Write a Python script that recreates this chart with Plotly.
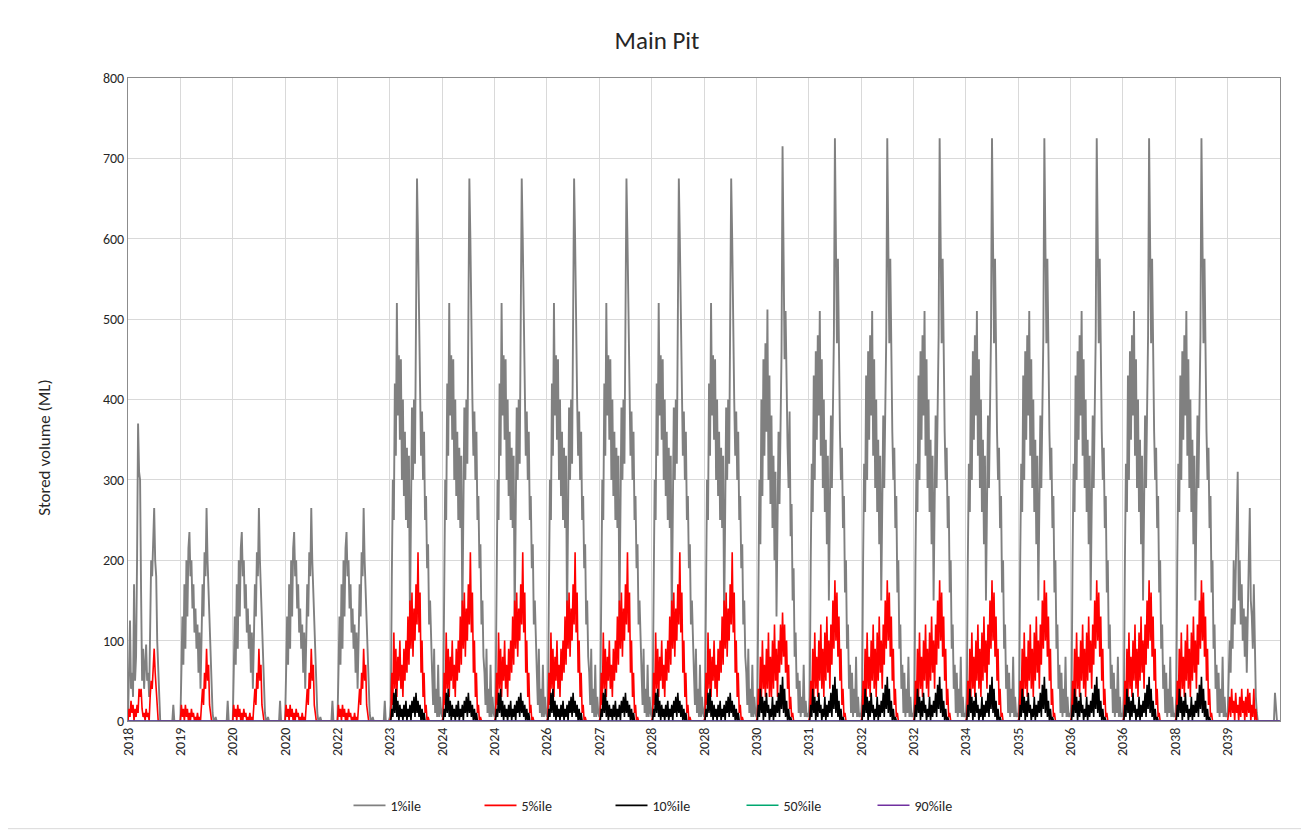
import plotly.graph_objects as go

# ---------------- data ----------------
tick_labels = ["2018", "2019", "2020", "2020", "2022", "2023", "2024", "2024", "2026", "2027", "2028",
               "2028", "2030", "2031", "2032", "2032", "2034", "2035", "2036", "2036", "2038", "2039"]

# per-year profiles (values in ML, ~1 sample per pixel column)
gray_2018 = [0, 80, 125, 40, 60, 30, 170, 50, 80, 200,
             370, 310, 300, 160, 50, 90, 40, 70, 95, 50,
             60, 30, 150, 200, 180, 230, 265, 200, 180, 100,
             60, 20, 0, 0, 0, 0, 0, 0, 0, 0,
             0, 0, 0, 0, 0, 20, 0, 0, 0, 0,
             0, 0]
gray_early = [0, 60, 130, 70, 170, 90, 200, 130, 215, 235,
              180, 200, 140, 170, 110, 140, 90, 120, 60, 110,
              40, 100, 170, 130, 210, 180, 265, 200, 160, 120,
              80, 40, 10, 0, 0, 5, 0, 0, 0, 0,
              0, 0, 0, 0, 0, 0, 0, 25, 0, 0,
              0, 0]
gray_main = [5, 20, 180, 300, 250, 420, 330, 520, 380, 455,
             350, 450, 300, 400, 280, 360, 250, 340, 240, 330,
             120, 310, 390, 300, 400, 320, 500, 675, 600, 480,
             400, 330, 385, 300, 360, 250, 280, 190, 220, 120,
             150, 80, 60, 20, 90, 10, 40, 5, 70, 5,
             30, 10]
gray_2030 = [5, 20, 150, 300, 220, 400, 280, 450, 330, 470,
             360, 512, 300, 430, 270, 380, 240, 330, 200, 310,
             130, 280, 360, 270, 400, 460, 715, 600, 450, 510,
             400, 340, 290, 385, 230, 270, 150, 190, 80, 110,
             40, 60, 10, 50, 5, 30, 10, 70, 5, 25,
             5, 10]
gray_late = [5, 30, 200, 320, 260, 430, 300, 460, 350, 480,
             380, 510, 330, 450, 290, 400, 260, 350, 220, 330,
             150, 300, 380, 290, 420, 480, 725, 620, 470, 575,
             420, 360, 300, 340, 240, 280, 160, 200, 90, 120,
             40, 70, 10, 60, 5, 40, 10, 80, 5, 30,
             5, 10]
gray_2039 = [5, 40, 100, 60, 140, 90, 200, 120, 180, 230,
             310, 150, 200, 120, 170, 100, 140, 80, 130, 60,
             170, 200, 265, 150, 130, 90, 170, 60, 30, 10,
             0, 0, 0, 0, 0, 0, 0, 0, 0, 0,
             0, 0, 0, 0, 0, 0, 0, 35, 10, 0,
             0, 0]

red_2018 = [0, 15, 5, 25, 10, 20, 0, 15, 5, 20,
            10, 40, 30, 40, 15, 5, 10, 0, 15, 5,
            10, 0, 30, 50, 40, 70, 90, 60, 40, 10,
            0, 0, 0, 0, 0, 0, 0, 0, 0, 0,
            0, 0, 0, 0, 0, 0, 0, 0, 0, 0,
            0, 0]
red_early = [0, 20, 5, 15, 0, 20, 5, 15, 0, 10,
             0, 15, 5, 10, 0, 5, 0, 10, 0, 5,
             0, 20, 40, 20, 60, 40, 90, 50, 70, 20,
             10, 0, 0, 0, 0, 0, 0, 0, 0, 0,
             0, 0, 0, 0, 0, 0, 0, 0, 0, 0,
             0, 0]
red_main = [0, 5, 60, 20, 110, 40, 90, 30, 80, 50,
            100, 40, 70, 30, 90, 50, 100, 60, 130, 70,
            150, 90, 160, 80, 140, 100, 170, 120, 210, 110,
            160, 60, 100, 30, 60, 10, 20, 0, 5, 0,
            0, 0, 0, 0, 0, 0, 0, 0, 0, 0,
            0, 0]
red_2030 = [0, 5, 40, 15, 80, 30, 100, 40, 70, 30,
            90, 40, 110, 30, 80, 30, 100, 40, 120, 50,
            90, 30, 100, 60, 120, 70, 135, 80, 120, 60,
            100, 40, 70, 15, 30, 5, 10, 0, 0, 0,
            0, 0, 0, 0, 0, 0, 0, 0, 0, 0,
            0, 0]
red_late = [0, 5, 50, 20, 90, 30, 110, 40, 80, 30,
            100, 50, 120, 40, 90, 30, 110, 50, 130, 60,
            100, 40, 120, 70, 150, 90, 175, 100, 160, 80,
            130, 50, 90, 20, 40, 5, 10, 0, 0, 0,
            0, 0, 0, 0, 0, 0, 0, 0, 0, 0,
            0, 0]
red_2039 = [0, 10, 30, 5, 40, 10, 25, 0, 35, 10,
            20, 0, 30, 5, 40, 10, 25, 0, 30, 5,
            40, 10, 35, 0, 20, 5, 40, 0, 15, 0,
            0, 0, 0, 0, 0, 0, 0, 0, 0, 0,
            0, 0, 0, 0, 0, 0, 0, 0, 0, 0,
            0, 0]

black_main = [0, 0, 15, 5, 35, 10, 40, 5, 25, 0,
              20, 5, 15, 0, 20, 5, 25, 0, 15, 5,
              20, 0, 25, 10, 30, 5, 35, 10, 25, 5,
              20, 0, 15, 0, 10, 0, 0, 0, 0, 0,
              0, 0, 0, 0, 0, 0, 0, 0, 0, 0,
              0, 0]
black_late = [0, 0, 20, 5, 40, 10, 30, 0, 25, 5,
              35, 10, 20, 0, 15, 5, 30, 0, 20, 5,
              25, 10, 35, 5, 45, 15, 55, 10, 40, 5,
              25, 0, 15, 0, 5, 0, 0, 0, 0, 0,
              0, 0, 0, 0, 0, 0, 0, 0, 0, 0,
              0, 0]

# which profile each year (tick) uses
gray_years = [gray_2018] + [gray_early] * 4 + [gray_main] * 7 + [gray_2030] + [gray_late] * 8 + [gray_2039]
red_years = [red_2018] + [red_early] * 4 + [red_main] * 7 + [red_2030] + [red_late] * 8 + [red_2039]
black_years = [None] * 5 + [black_main] * 7 + [black_late] * 9 + [None]

pct50_x = [0, 22]
pct50_values = [0, 0]
pct90_x = [0, 22]
pct90_values = [0, 0]


def build(year_profiles):
    xs, ys = [], []
    for i, vals in enumerate(year_profiles):
        if vals is None:
            continue
        n = len(vals)
        for k, v in enumerate(vals):
            xs.append(i + k / n)
            ys.append(v)
    return xs, ys


gx, gy = build(gray_years)
rx, ry = build(red_years)
bx, by = build(black_years)

FONT = "Carlito, Lato, 'Liberation Sans', sans-serif"

# page body has an 8px margin, so the figure is sized to sit inside the window
W, H = 1301, 826
ML, MR, MT, MB = 120, 29, 70, 111
PW, PH = W - ML - MR, H - MT - MB

fig = go.Figure()
fig.add_trace(go.Scatter(x=gx, y=gy, mode="lines", name="1%ile",
                         line=dict(color="#808080", width=1.9)))
fig.add_trace(go.Scatter(x=rx, y=ry, mode="lines", name="5%ile",
                         line=dict(color="#ff0000", width=1.6)))
fig.add_trace(go.Scatter(x=bx, y=by, mode="lines", name="10%ile",
                         line=dict(color="#000000", width=1.6)))
fig.add_trace(go.Scatter(x=pct50_x, y=pct50_values, mode="lines", name="50%ile",
                         line=dict(color="#00a870", width=1.5)))
fig.add_trace(go.Scatter(x=pct90_x, y=pct90_values, mode="lines", name="90%ile",
                         line=dict(color="#7030a0", width=1.5)))

fig.update_layout(
    width=W, height=H,
    margin=dict(l=ML, r=MR, t=MT, b=MB),
    paper_bgcolor="white", plot_bgcolor="white",
    font=dict(family=FONT, color="#262626", size=13),
    title=dict(text="Main Pit", x=(657 - 8) / W, xanchor="center", y=1 - (40 - 8) / H, yanchor="middle",
               font=dict(size=25, color="#262626", family=FONT)),
    showlegend=True,
    legend=dict(orientation="h", x=(676 - 8 - ML) / PW, xanchor="center",
                y=-(808 - 723) / PH, yanchor="middle",
                font=dict(size=14, family=FONT), traceorder="normal", entrywidth=84,
                itemwidth=32),
    xaxis=dict(range=[0, 22], tickmode="array", tickvals=list(range(len(tick_labels))),
               ticktext=tick_labels, tickangle=-90, showgrid=True, gridcolor="#d9d9d9",
               gridwidth=1, showline=True, mirror=True, linecolor="#8c8c8c", linewidth=1,
               ticks="", zeroline=False, tickfont=dict(size=14, family=FONT, color="#262626")),
    yaxis=dict(range=[0, 800], dtick=100, showgrid=True, gridcolor="#d9d9d9", gridwidth=1,
               showline=True, mirror=True, linecolor="#8c8c8c", linewidth=1, ticks="",
               zeroline=False, tickfont=dict(size=14, family=FONT, color="#262626")),
    annotations=[dict(text="Stored volume (ML)", textangle=-90, xref="paper", yref="paper",
                      x=(45 - 8 - ML) / PW, y=(723 - 449) / PH, xanchor="center", yanchor="middle",
                      showarrow=False, font=dict(size=17, family=FONT, color="#262626"))],
    shapes=[dict(type="rect", xref="paper", yref="paper",
                 x0=(3 - 8 - ML) / PW, x1=(1304 - 8 - ML) / PW,
                 y0=-(831 - 723) / PH, y1=(723 - 3) / PH,
                 line=dict(color="#d9d9d9", width=1), fillcolor="rgba(0,0,0,0)", layer="below")],
)

fig.write_html("out.html")
